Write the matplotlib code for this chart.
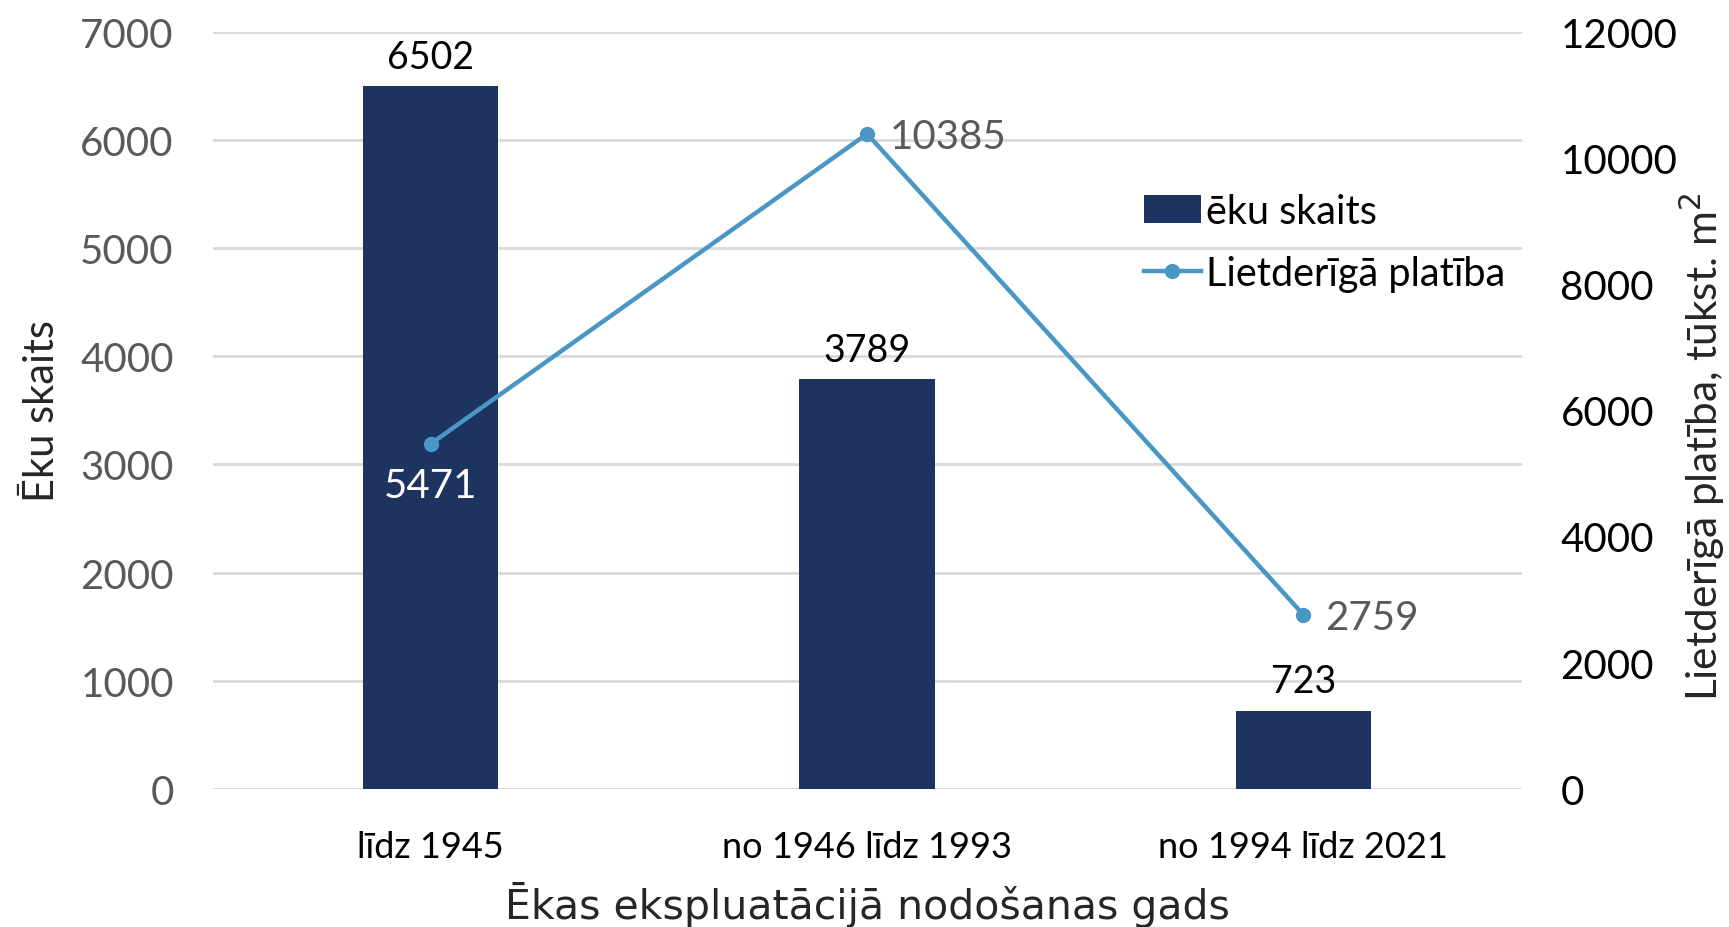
import matplotlib
matplotlib.use("Agg")
import matplotlib.pyplot as plt
from matplotlib.lines import Line2D
from matplotlib.patches import Patch

categories = ["līdz 1945", "no 1946 līdz 1993", "no 1994 līdz 2021"]
eku_skaits = [6502, 3789, 723]
platiba = [5471, 10385, 2759]
left_ticks = [0, 1000, 2000, 3000, 4000, 5000, 6000, 7000]
right_ticks = [0, 2000, 4000, 6000, 8000, 10000, 12000]

BAR = "#1D3461"
LINE = "#4A96C4"
GRID = "#D9D9D9"
TICKGRAY = "#595959"
FONT = ["Lato", "DejaVu Sans"]

plt.rcParams['font.family'] = FONT

fig = plt.figure(figsize=(17.29, 9.28), dpi=100)
ax = fig.add_axes([0.123, 0.149, 0.757, 0.8154])
ax2 = ax.twinx()

x = list(range(len(categories)))
ax.bar(x, eku_skaits, width=0.31, color=BAR, zorder=2)
ax.set_xlim(-0.5, 2.5)
ax.set_ylim(0, 7000)
ax.set_yticks(left_ticks)
ax.grid(axis='y', color=GRID, linewidth=2, zorder=0)
ax.set_axisbelow(True)
for s in ax.spines.values():
    s.set_visible(False)
for s in ax2.spines.values():
    s.set_visible(False)
ax.tick_params(axis='both', length=0)
ax.tick_params(axis='y', labelsize=29, labelcolor=TICKGRAY, pad=28)
ax.set_xticks(x)
ax.set_xticklabels(categories, fontsize=26, color="black")
ax.tick_params(axis='x', pad=30)
ax.set_ylabel("Ēku skaits", fontsize=30, color="#262626", labelpad=14)
ax.set_xlabel("Ēkas ekspluatācijā nodošanas gads", fontsize=29.5, color="#262626",
              labelpad=13, family=["DejaVu Sans"])

for xi, v in zip(x, eku_skaits):
    ax.annotate(str(v), (xi, v), xytext=(0, 8), textcoords='offset points',
                ha='center', va='bottom', fontsize=27, color="black")

ax2.plot(x, platiba, color=LINE, linewidth=3.2, marker='o', markersize=10, zorder=3)
ax2.set_ylim(0, 12000)
ax2.set_yticks(right_ticks)
ax2.tick_params(axis='y', length=0, labelsize=29, labelcolor="black", pad=28)
ax2.set_ylabel("Lietderīgā platība, tūkst. m$^2$", fontsize=30.5, color="#262626")
ax2.yaxis.set_label_coords(1.138, 0.453)
ax2.yaxis.label.set_va('center')

offs = [(0, -30), (16, -2), (16, -2)]
has = ['center', 'left', 'left']
cols = ['white', TICKGRAY, TICKGRAY]
for xi, v, o, h, c in zip(x, platiba, offs, has, cols):
    ax2.annotate(str(v), (xi, v), xytext=o, textcoords='offset points',
                 ha=h, va='center', fontsize=29, color=c, zorder=5)

handles = [Patch(facecolor=BAR, edgecolor='none'),
           Line2D([0], [0], color=LINE, linewidth=3.2, marker='o', markersize=10)]
leg = ax2.legend(handles, ["ēku skaits", "Lietderīgā platība"], loc='upper left',
                 bbox_to_anchor=(0.684, 0.835), frameon=False, fontsize=28.5,
                 handlelength=1.45, handletextpad=0.12, labelspacing=0.65)

fig.savefig("out.png", dpi=100)
